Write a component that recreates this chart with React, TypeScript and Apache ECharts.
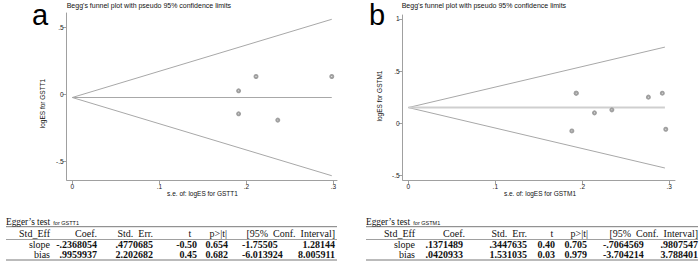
import React, { useEffect, useRef } from "react";
import * as echarts from "echarts";

// ---- Data ----
// Panel a: GSTT1
const seA = [0.211, 0.298, 0.191, 0.191, 0.236];
const esA = [0.132, 0.132, 0.025, -0.147, -0.194];
const pooledA = -0.025;
const seMaxA = 0.298;
const upperEndA = 0.56;
const lowerEndA = -0.61;

// Panel b: GSTM1
const seB = [0.193, 0.193, 0.276, 0.292, 0.214, 0.234, 0.188, 0.296];
const esB = [0.288, 0.288, 0.25, 0.288, 0.099, 0.128, -0.074, -0.058];
const pooledB = 0.15;
const seMaxB = 0.295;
const upperEndB = 0.73;
const lowerEndB = -0.43;

const xTicks = [0, 0.1, 0.2, 0.3];
const yTicksA = [-0.5, 0, 0.5];
const yTicksB = [-0.5, 0, 0.5, 1];

const plotTitle = "Begg's funnel plot with pseudo 95% confidence limits";
const yNameA = "logES for GSTT1";
const yNameB = "logES for GSTM1";
const xNameA = "s.e. of: logES for GSTT1";
const xNameB = "s.e. of: logES for GSTM1";

const eggerHeader = ["Std_Eff", "Coef.", "Std.  Err.", "t", "p>|t|", "[95%  Conf.  Interval]"];
const eggerRowLabels = ["slope", "bias"];
const eggerA = [
  ["-.2368054", ".4770685", "-0.50", "0.654", "-1.75505", "1.28144"],
  [".9959937", "2.202682", "0.45", "0.682", "-6.013924", "8.005911"],
];
const eggerB = [
  [".1371489", ".3447635", "0.40", "0.705", "-.7064569", ".9807547"],
  [".0420933", "1.531035", "0.03", "0.979", "-3.704214", "3.788401"],
];
const eggerTitleA = "for GSTT1";
const eggerTitleB = "for GSTM1";

// ---- Styling / layout ----
const SANS = "Liberation Sans, Arial, sans-serif";
const SERIF = "Liberation Serif, Times New Roman, serif";
const LINE_C = "#a8a8a8";
const AXIS_C = "#a0a0a0";

const fmtTick = (v: number) => {
  if (v === 0) return "0";
  const s = String(Math.round(v * 1000) / 1000);
  return s.replace(/^(-?)0\./, "$1.");
};

function tableGraphics(
  x0: number,
  x1: number,
  rows: string[][],
  forText: string,
  headerPos: { x: number; align: string }[],
  cellPos: { x: number; align: string }[]
) {
  const els: any[] = [];
  els.push({
    type: "text",
    style: {
      x: x0,
      y: 221.5,
      text: `{a|Egger\u2019s test} {b|${forText}}`,
      rich: {
        a: { font: `9.3px ${SERIF}`, fill: "#111" },
        b: { font: `5.5px ${SANS}`, fill: "#111", padding: [2, 0, 0, 0] },
      },
      textAlign: "left",
      textVerticalAlign: "middle",
    },
  });
  els.push({ type: "line", shape: { x1: x0, y1: 226.7, x2: x1, y2: 226.7 }, style: { stroke: "#555", lineWidth: 0.8 } });
  els.push({ type: "line", shape: { x1: x0, y1: 239.5, x2: x1, y2: 239.5 }, style: { stroke: "#888", lineWidth: 0.8 } });
  els.push({ type: "line", shape: { x1: x0, y1: 260, x2: x1, y2: 260 }, style: { stroke: "#bbb", lineWidth: 2 } });
  eggerHeader.forEach((h, i) => {
    els.push({
      type: "text",
      style: { x: headerPos[i].x, y: 233, text: h, font: `10px ${SERIF}`, fill: "#111", textAlign: headerPos[i].align, textVerticalAlign: "middle" },
    });
  });
  const rowY = [244.5, 254.5];
  rows.forEach((r, ri) => {
    els.push({
      type: "text",
      style: { x: cellPos[0].x, y: rowY[ri], text: eggerRowLabels[ri], font: `10px ${SERIF}`, fill: "#111", textAlign: cellPos[0].align, textVerticalAlign: "middle" },
    });
    r.forEach((c, ci) => {
      els.push({
        type: "text",
        style: {
          x: cellPos[ci + 1].x,
          y: rowY[ri],
          text: c,
          font: `bold 10px ${SERIF}`,
          fill: "#111",
          textAlign: cellPos[ci + 1].align,
          textVerticalAlign: "middle",
        },
      });
    });
  });
  return els;
}

function makeAxisX(gridIndex: number, min: number, max: number) {
  return {
    type: "value",
    gridIndex,
    min,
    max,
    axisLine: { show: true, onZero: false, lineStyle: { color: AXIS_C, width: 1 } },
    axisTick: { show: true, length: 4, customValues: xTicks, lineStyle: { color: AXIS_C } },
    axisLabel: { show: true, customValues: xTicks, formatter: fmtTick, fontSize: 6.5, fontFamily: SANS, color: "#222", margin: 3 },
    splitLine: { show: false },
  };
}

function makeAxisY(gridIndex: number, min: number, max: number, ticks: number[]) {
  return {
    type: "value",
    gridIndex,
    min,
    max,
    axisLine: { show: true, onZero: false, lineStyle: { color: AXIS_C, width: 1 } },
    axisTick: { show: true, length: 4, customValues: ticks, lineStyle: { color: AXIS_C } },
    axisLabel: { show: true, customValues: ticks, formatter: fmtTick, fontSize: 6.5, fontFamily: SANS, color: "#222", margin: 3 },
    splitLine: { show: false },
  };
}

function funnelSeries(idx: number, se: number[], es: number[], pooled: number, seMax: number, up: number, lo: number, pooledWidth: number, pooledColor: string) {
  const base = { xAxisIndex: idx, yAxisIndex: idx, silent: true };
  return [
    { ...base, type: "line", symbol: "none", data: [[0, pooled], [seMax, up]], lineStyle: { color: LINE_C, width: 1 } },
    { ...base, type: "line", symbol: "none", data: [[0, pooled], [seMax, lo]], lineStyle: { color: LINE_C, width: 1 } },
    { ...base, type: "line", symbol: "none", data: [[0, pooled], [seMax, pooled]], lineStyle: { color: pooledColor, width: pooledWidth } },
    {
      ...base,
      type: "scatter",
      symbol: "emptyCircle",
      symbolSize: 3,
      z: 5,
      data: se.map((s, i) => [s, es[i]]),
      itemStyle: { color: "#a0a0a0", borderColor: "#a0a0a0", borderWidth: 0.8, opacity: 1 },
    },
  ];
}

export default function App() {
  const ref = useRef<HTMLDivElement>(null);
  useEffect(() => {
    if (!ref.current) return;
    const chart = echarts.init(ref.current, null, { renderer: "svg" });
    const textEl = (x: number, y: number, text: string, font: string, align = "left", rotation = 0) => ({
      type: "text",
      x,
      y,
      rotation,
      style: { x: 0, y: 0, text, font, fill: "#111", textAlign: align, textVerticalAlign: "middle" },
    });
    const option: any = {
      animation: false,
      backgroundColor: "#fff",
      grid: [
        { left: 66.7, top: 13, width: 270.3, height: 167 },
        { left: 402.7, top: 15, width: 272.3, height: 165 },
      ],
      xAxis: [makeAxisX(0, -0.0064, 0.304), makeAxisX(1, -0.0065, 0.3066)],
      yAxis: [makeAxisY(0, -0.642, 0.607, yTicksA), makeAxisY(1, -0.545, 1.038, yTicksB)],
      series: [
        ...funnelSeries(0, seA, esA, pooledA, seMaxA, upperEndA, lowerEndA, 1, LINE_C),
        ...funnelSeries(1, seB, esB, pooledB, seMaxB, upperEndB, lowerEndB, 2, "#cfcfcf"),
      ],
      graphic: [
        { type: "text", style: { x: 32, y: 14.8, text: "a", font: `29px ${SANS}`, fill: "#000", textAlign: "left", textVerticalAlign: "middle" } },
        { type: "text", style: { x: 369, y: 14.8, text: "b", font: `29px ${SANS}`, fill: "#000", textAlign: "left", textVerticalAlign: "middle" } },
        textEl(66.7, 5, plotTitle, `7px ${SANS}`),
        textEl(401.7, 5, plotTitle, `7px ${SANS}`),
        textEl(42.7, 103.5, yNameA, `6.5px ${SANS}`, "center", Math.PI / 2),
        textEl(379.3, 96, yNameB, `6.5px ${SANS}`, "center", Math.PI / 2),
        textEl(202.5, 193.5, xNameA, `6.5px ${SANS}`, "center"),
        textEl(540, 193.5, xNameB, `6.5px ${SANS}`, "center"),
        ...tableGraphics(
          6,
          337,
          eggerA,
          eggerTitleA,
          [
            { x: 50, align: "right" },
            { x: 97, align: "right" },
            { x: 153, align: "right" },
            { x: 190, align: "center" },
            { x: 227, align: "right" },
            { x: 335, align: "right" },
          ],
          [
            { x: 50, align: "right" },
            { x: 97, align: "right" },
            { x: 153, align: "right" },
            { x: 197, align: "right" },
            { x: 228, align: "right" },
            { x: 242, align: "left" },
            { x: 335, align: "right" },
          ]
        ),
        ...tableGraphics(
          366,
          698,
          eggerB,
          eggerTitleB,
          [
            { x: 415, align: "right" },
            { x: 465, align: "right" },
            { x: 527, align: "right" },
            { x: 552, align: "center" },
            { x: 588, align: "right" },
            { x: 698, align: "right" },
          ],
          [
            { x: 415, align: "right" },
            { x: 463, align: "right" },
            { x: 527, align: "right" },
            { x: 555, align: "right" },
            { x: 587, align: "right" },
            { x: 603, align: "left" },
            { x: 698, align: "right" },
          ]
        ),
      ],
    };
    chart.setOption(option);
    return () => chart.dispose();
  }, []);
  return <div ref={ref} style={{ position: "absolute", left: 0, top: 0, width: 700, height: 280 }} />;
}
